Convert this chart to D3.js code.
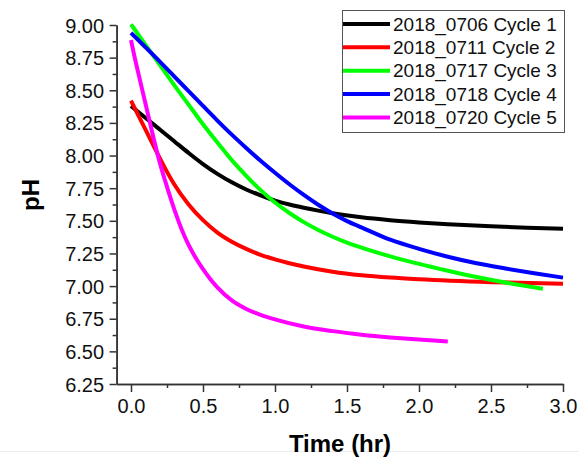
<!DOCTYPE html>
<html>
<head>
<meta charset="utf-8">
<script src="https://cdn.jsdelivr.net/npm/d3@7"></script>
<style>
  body { margin: 0; background: #fff; }
  text { font-family: Arial, "Liberation Sans", sans-serif; }
</style>
</head>
<body>
<svg id="chart" width="579" height="458"></svg>
<script>
// series names and colours
const seriesNames = ["2018_0706 Cycle 1", "2018_0711 Cycle 2", "2018_0717 Cycle 3", "2018_0718 Cycle 4", "2018_0720 Cycle 5"];
const seriesColors = ["#000000", "#ff0000", "#00ff00", "#0000ff", "#ff00ff"];

// time (hr) and pH
const cycle1Time = [0, 0.1, 0.2, 0.3, 0.4, 0.5, 0.6, 0.7, 0.8, 0.9, 1.0, 1.1, 1.2, 1.3, 1.4, 1.6, 1.8, 2.0, 2.2, 2.5, 2.75, 3.0];
const cycle1PH   = [8.38, 8.29, 8.20, 8.11, 8.02, 7.935, 7.86, 7.795, 7.74, 7.695, 7.655, 7.625, 7.60, 7.578, 7.558, 7.527, 7.505, 7.488, 7.474, 7.458, 7.447, 7.44];

const cycle2Time = [0, 0.05, 0.1, 0.15, 0.2, 0.25, 0.3, 0.4, 0.5, 0.6, 0.7, 0.8, 0.9, 1.0, 1.2, 1.4, 1.6, 1.8, 2.0, 2.5, 3.0];
const cycle2PH   = [8.42, 8.31, 8.20, 8.09, 7.98, 7.875, 7.78, 7.625, 7.505, 7.41, 7.34, 7.285, 7.24, 7.205, 7.15, 7.11, 7.083, 7.065, 7.052, 7.03, 7.017];

const cycle3Time = [0, 0.1, 0.2, 0.3, 0.4, 0.5, 0.6, 0.7, 0.8, 0.9, 1.0, 1.1, 1.2, 1.3, 1.4, 1.5, 1.6, 1.8, 2.0, 2.2, 2.4, 2.6, 2.86];
const cycle3PH   = [9.005, 8.85, 8.695, 8.54, 8.39, 8.24, 8.10, 7.965, 7.845, 7.735, 7.64, 7.56, 7.49, 7.43, 7.378, 7.333, 7.295, 7.228, 7.17, 7.118, 7.07, 7.027, 6.98];

const cycle4Time = [0, 0.1, 0.2, 0.3, 0.4, 0.5, 0.6, 0.7, 0.8, 0.9, 1.0, 1.1, 1.2, 1.3, 1.4, 1.5, 1.6, 1.8, 2.0, 2.2, 2.4, 2.6, 2.8, 3.0];
const cycle4PH   = [8.94, 8.83, 8.72, 8.607, 8.493, 8.38, 8.268, 8.16, 8.058, 7.96, 7.868, 7.78, 7.698, 7.623, 7.556, 7.498, 7.45, 7.355, 7.285, 7.225, 7.175, 7.135, 7.098, 7.065];

const cycle5Time = [0, 0.02, 0.05, 0.1, 0.15, 0.2, 0.25, 0.3, 0.35, 0.4, 0.45, 0.5, 0.55, 0.6, 0.7, 0.8, 0.9, 1.0, 1.2, 1.4, 1.6, 1.8, 2.0, 2.2];
const cycle5PH   = [8.885, 8.78, 8.635, 8.40, 8.165, 7.945, 7.76, 7.59, 7.44, 7.315, 7.215, 7.13, 7.055, 6.99, 6.89, 6.825, 6.78, 6.745, 6.69, 6.655, 6.628, 6.607, 6.59, 6.575];

// axis ticks
const xMajorTicks = [0, 0.5, 1.0, 1.5, 2.0, 2.5, 3.0];
const xMinorTicks = [0.25, 0.75, 1.25, 1.75, 2.25, 2.75];
const yMajorTicks = [6.25, 6.5, 6.75, 7.0, 7.25, 7.5, 7.75, 8.0, 8.25, 8.5, 8.75, 9.0];
const yMinorTicks = [6.375, 6.625, 6.875, 7.125, 7.375, 7.625, 7.875, 8.125, 8.375, 8.625, 8.875];

const allTimes = [cycle1Time, cycle2Time, cycle3Time, cycle4Time, cycle5Time];
const allPH = [cycle1PH, cycle2PH, cycle3PH, cycle4PH, cycle5PH];
const series = seriesNames.map((name, i) => ({
  name: name,
  color: seriesColors[i],
  points: allTimes[i].map((t, j) => ({t: t, ph: allPH[i][j]}))
}));

const svg = d3.select("#chart");

// faint rule near the bottom of the picture
svg.append("line")
  .attr("x1", 0).attr("x2", 579).attr("y1", 451.5).attr("y2", 451.5)
  .attr("stroke", "#ececec").attr("stroke-width", 1);

const x = d3.scaleLinear().domain([-0.1, 3.0]).range([116.6, 563]);
const y = d3.scaleLinear().domain([6.25, 9.0]).range([384, 25]);
const axisColor = "#333";

// x axis
const xAxis = svg.append("g").attr("transform", "translate(0,384)");
xAxis.call(d3.axisBottom(x).tickValues(xMajorTicks).tickFormat(d3.format(".1f")).tickSize(8).tickSizeOuter(0));
xAxis.append("g").call(d3.axisBottom(x).tickValues(xMinorTicks).tickFormat("").tickSize(4).tickSizeOuter(0));
xAxis.selectAll(".domain").attr("stroke", axisColor).attr("stroke-width", 1.5);
xAxis.selectAll(".tick line").attr("stroke", axisColor).attr("stroke-width", 1.5);
xAxis.selectAll(".tick text")
  .attr("font-size", 20).attr("fill", "#111").attr("dy", null).attr("y", 29)
  .style("font-family", "Arial, 'Liberation Sans', sans-serif");

// y axis
const yAxis = svg.append("g").attr("transform", "translate(116.6,0)");
yAxis.call(d3.axisLeft(y).tickValues(yMajorTicks).tickFormat(d3.format(".2f")).tickSize(7).tickSizeOuter(0));
yAxis.append("g").call(d3.axisLeft(y).tickValues(yMinorTicks).tickFormat("").tickSize(4).tickSizeOuter(0));
yAxis.selectAll(".domain").attr("stroke", axisColor).attr("stroke-width", 1.5);
yAxis.selectAll(".tick line").attr("stroke", axisColor).attr("stroke-width", 1.5);
yAxis.selectAll(".tick text")
  .attr("font-size", 20).attr("fill", "#111").attr("x", -12.5).attr("dy", "0.35em")
  .style("font-family", "Arial, 'Liberation Sans', sans-serif");

// axis titles
svg.append("text")
  .attr("x", 340).attr("y", 452)
  .attr("text-anchor", "middle").attr("font-size", 24).attr("font-weight", "bold")
  .text("Time (hr)");
svg.append("text")
  .attr("transform", "translate(39,195) rotate(-90)")
  .attr("text-anchor", "middle").attr("font-size", 24).attr("font-weight", "bold")
  .text("pH");

// curves
const line = d3.line()
  .x(d => x(d.t))
  .y(d => y(d.ph))
  .curve(d3.curveMonotoneX);

svg.append("g").selectAll("path")
  .data(series)
  .enter()
  .append("path")
  .attr("fill", "none")
  .attr("stroke", d => d.color)
  .attr("stroke-width", 4)
  .attr("d", d => line(d.points));

// legend
const legend = svg.append("g");
legend.append("rect")
  .attr("x", 342.5).attr("y", 10.5).attr("width", 222).attr("height", 122)
  .attr("fill", "#fff").attr("stroke", "#555").attr("stroke-width", 1);
const rows = legend.selectAll("g.row")
  .data(series)
  .enter()
  .append("g")
  .attr("class", "row")
  .attr("transform", (d, i) => `translate(0,${24 + i * 23.35})`);
rows.append("line")
  .attr("x1", 343).attr("x2", 390).attr("y1", 0).attr("y2", 0)
  .attr("stroke", d => d.color).attr("stroke-width", 4);
rows.append("text")
  .attr("x", 393).attr("y", 0).attr("dy", "0.35em")
  .attr("font-size", 19).attr("fill", "#111")
  .text(d => d.name);
</script>
</body>
</html>
